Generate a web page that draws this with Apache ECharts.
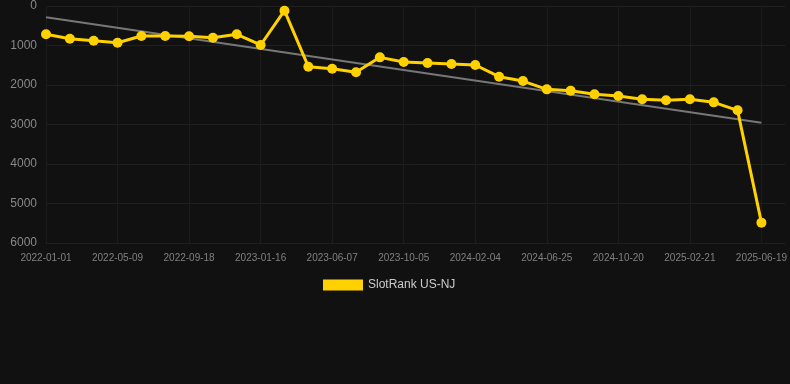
<!DOCTYPE html>
<html><head><meta charset="utf-8">
<script src="https://cdn.jsdelivr.net/npm/echarts@6/dist/echarts.min.js"></script>
<style>html,body{margin:0;padding:0;background:#111111;}#c{width:790px;height:384px;}</style>
</head><body><div id="c"></div>
<script>
const categories = ['2022-01-01','2022-02-12','2022-03-26','2022-05-09','2022-06-22','2022-08-05','2022-09-18','2022-10-28','2022-12-07','2023-01-16','2023-03-04','2023-04-20','2023-06-07','2023-07-17','2023-08-26','2023-10-05','2023-11-15','2023-12-25','2024-02-04','2024-03-21','2024-05-08','2024-06-25','2024-08-03','2024-09-11','2024-10-20','2024-12-01','2025-01-10','2025-02-21','2025-04-01','2025-05-10','2025-06-19',''];
const rankValues = [717,828,878,929,760,760,767,802,717,987,119,1536,1587,1679,1300,1418,1443,1468,1494,1789,1900,2110,2144,2236,2278,2363,2388,2363,2439,2641,5485,null];
const trendValues = [287,null,null,null,null,null,null,null,null,null,null,null,null,null,null,null,null,null,null,null,null,null,null,null,null,null,null,null,null,null,2954,null];
const yTicks = {min:0,max:6000,interval:1000};

const chart = echarts.init(document.getElementById('c'));
chart.setOption({
  backgroundColor:'#111111',
  animation:false,
  grid:{left:46,right:4,top:6,bottom:141},
  legend:{
    data:[{name:'SlotRank US-NJ',icon:'rect'}],
    bottom:88,left:318,itemWidth:40,itemHeight:11,itemGap:10,
    textStyle:{color:'#cccccc',fontSize:12,fontFamily:'Arial, Liberation Sans, sans-serif'}
  },
  xAxis:{
    type:'category',data:categories,boundaryGap:false,
    axisLine:{show:false},axisTick:{show:false},
    axisLabel:{interval:2,color:'#808080',fontSize:10,margin:10,fontFamily:'Arial, Liberation Sans, sans-serif'},
    splitLine:{show:true,interval:2,lineStyle:{color:'#1c1c1c',width:1}}
  },
  yAxis:{
    type:'value',inverse:true,min:yTicks.min,max:yTicks.max,interval:yTicks.interval,
    axisLine:{show:false},axisTick:{show:false},
    axisLabel:{color:'#888888',fontSize:12,margin:9,formatter:function(v){return String(v);},fontFamily:'Arial, Liberation Sans, sans-serif'},
    splitLine:{lineStyle:{color:'#202020',width:1}}
  },
  series:[
    {name:'Trend',type:'line',data:trendValues,connectNulls:true,symbol:'none',
     lineStyle:{color:'#777777',width:2},itemStyle:{color:'#777777'},z:2,silent:true},
    {name:'SlotRank US-NJ',type:'line',data:rankValues,symbol:'circle',symbolSize:10,
     lineStyle:{color:'#FFD100',width:3},itemStyle:{color:'#FFD100'},z:3}
  ]
});
</script></body></html>
